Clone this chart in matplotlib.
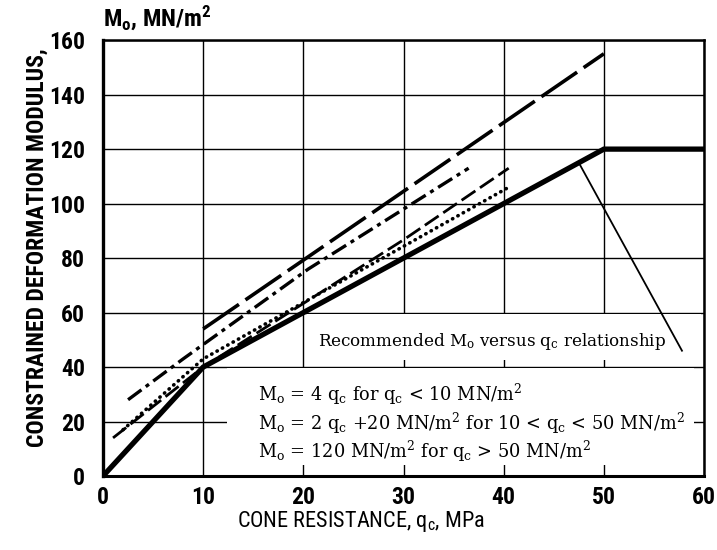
import matplotlib
matplotlib.use("Agg")
import matplotlib.pyplot as plt
from matplotlib import font_manager
from matplotlib.font_manager import FontProperties
from matplotlib.patches import Rectangle

# Recommended relationship and published correlations (q_c in MPa, M_o in MN/m^2)
qc_rec = [0, 10, 50, 60]
mo_rec = [0, 40, 120, 120]

qc_a = [10, 50]
mo_a = [54, 155]

qc_b = [2.5, 8, 20.5, 36.5]
mo_b = [28, 43, 76, 113]

qc_c = [1, 10, 30, 40.5]
mo_c = [14, 40, 86.7, 113]

qc_d = [2, 10, 40.5]
mo_d = [17, 43, 106]

pointer_qc = [47.5, 57.8]
pointer_mo = [115, 46]

x_ticks = [0, 10, 20, 30, 40, 50, 60]
y_ticks = [0, 20, 40, 60, 80, 100, 120, 140, 160]

rec_label = r"Recommended M$_\mathregular{o}$ versus q$_\mathregular{c}$ relationship"
formulas = [
    r"M$_\mathregular{o}$ = 4 q$_\mathregular{c}$ for q$_\mathregular{c}$ < 10 MN/m$^\mathregular{2}$",
    r"M$_\mathregular{o}$ = 2 q$_\mathregular{c}$ +20 MN/m$^\mathregular{2}$ for 10 < q$_\mathregular{c}$ < 50 MN/m$^\mathregular{2}$",
    r"M$_\mathregular{o}$ = 120 MN/m$^\mathregular{2}$ for q$_\mathregular{c}$ > 50 MN/m$^\mathregular{2}$",
]
formula_y = [30, 19.5, 9]


def condensed_font(size, weight="normal"):
    """Pick a narrow sans face for the axis annotation."""
    entries = font_manager.fontManager.ttflist
    names = {f.name for f in entries}
    for fam in ("Liberation Sans Narrow", "Roboto Condensed",
                "Open Sans Condensed", "DejaVu Sans Condensed"):
        if fam in names:
            return FontProperties(family=fam, weight=weight, size=size)
    if any(f.name == "DejaVu Sans" and "condensed" in str(f.stretch)
           for f in entries):
        return FontProperties(family="DejaVu Sans", stretch="condensed",
                              weight=weight, size=size)
    return FontProperties(family="Liberation Sans", weight=weight,
                          size=size * 0.95)


plt.rcParams["mathtext.fontset"] = "dejavuserif"

fig = plt.figure(figsize=(7.17, 5.5), dpi=100)
ax = fig.add_axes([0.1437, 0.1345, 0.8382, 0.7925])

ax.set_xlim(0, 60)
ax.set_ylim(0, 160)
ax.set_xticks(x_ticks)
ax.set_yticks(y_ticks)
ax.set_axisbelow(True)
ax.grid(True, color="black", lw=1.0)
for s in ax.spines.values():
    s.set_linewidth(1.8)
    s.set_color("black")
ax.spines["left"].set_linewidth(2.4)
ax.spines["bottom"].set_linewidth(2.2)

ax.tick_params(axis="x", length=0, pad=7)
ax.tick_params(axis="y", length=0, pad=13)
tick_fp = condensed_font(17, "bold")
for lbl in ax.get_xticklabels() + ax.get_yticklabels():
    lbl.set_fontproperties(tick_fp)

# Blank panels that carry the annotation text
ax.add_patch(Rectangle((20.4, 42.6), 39.3, 17.0, facecolor="white",
                       edgecolor="none", zorder=1))
ax.add_patch(Rectangle((12.4, 4.0), 46.6, 35.7, facecolor="white",
                       edgecolor="none", zorder=1))

# Correlation curves
ax.plot(qc_a, mo_a, color="black", lw=2.6, linestyle=(0, (12, 2.2)),
        solid_capstyle="butt", zorder=3)
ax.plot(qc_b, mo_b, color="black", lw=2.4, linestyle=(0, (5, 1.6, 1.2, 1.6)),
        zorder=3)
ax.plot(qc_c, mo_c, color="black", lw=2.0, linestyle=(0, (6, 2)), zorder=3)
ax.plot(qc_d, mo_d, color="black", lw=2.6, linestyle=(0, (0.1, 1.6)),
        dash_capstyle="round", zorder=3)
ax.plot(qc_rec, mo_rec, color="black", lw=3.8, solid_joinstyle="miter",
        zorder=4)
ax.plot(pointer_qc, pointer_mo, color="black", lw=1.3, zorder=4)

serif = ["DejaVu Serif"]
ax.text(21.5, 49.5, rec_label, fontsize=12.1, family=serif, va="center",
        ha="left", zorder=5)
for y, t in zip(formula_y, formulas):
    ax.text(15.5, y, t, fontsize=12.8, family=serif, va="center", ha="left",
            zorder=5)

fig.text(103 / 717, 1 - 18 / 550, r"M$_\mathregular{o}$, MN/m$^\mathregular{2}$",
         fontproperties=condensed_font(17.5, "bold"), va="center", ha="left")
fig.text(37 / 717, 1 - 248 / 550, "CONSTRAINED DEFORMATION MODULUS,",
         fontproperties=condensed_font(17, "bold"), rotation=90,
         va="center", ha="center")
fig.text(361 / 717, 1 - 522 / 550, r"CONE RESISTANCE, q$_\mathregular{c}$, MPa",
         fontproperties=condensed_font(16), va="center", ha="center")

fig.savefig("out.png", dpi=100)
